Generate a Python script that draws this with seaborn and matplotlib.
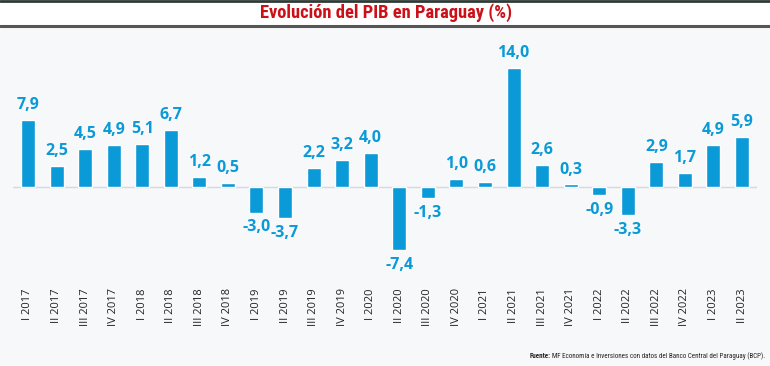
import numpy as np
import pandas as pd
import seaborn as sns
import matplotlib.pyplot as plt
from matplotlib import font_manager
from matplotlib.patches import Rectangle
from matplotlib.lines import Line2D

# Data
quarters = ["I 2017", "II 2017", "III 2017", "IV 2017",
            "I 2018", "II 2018", "III 2018", "IV 2018",
            "I 2019", "II 2019", "III 2019", "IV 2019",
            "I 2020", "II 2020", "III 2020", "IV 2020",
            "I 2021", "II 2021", "III 2021", "IV 2021",
            "I 2022", "II 2022", "III 2022", "IV 2022",
            "I 2023", "II 2023"]
pib = [7.9, 2.5, 4.5, 4.9, 5.1, 6.7, 1.2, 0.5,
       -3.0, -3.7, 2.2, 3.2, 4.0, -7.4, -1.3, 1.0,
       0.6, 14.0, 2.6, 0.3, -0.9, -3.3, 2.9, 1.7,
       4.9, 5.9]

df = pd.DataFrame({"trimestre": quarters, "pib": pib})

blue = "#0a9ad7"
bg = "#f7f8fa"

sns.set_style("white")
plt.rcParams["font.family"] = ["Open Sans", "DejaVu Sans"]

# pick a narrow face for title and source, if there is one
names = {f.name for f in font_manager.fontManager.ttflist}
narrow = [n for n in ["Roboto Condensed", "Liberation Sans Narrow", "Open Sans Condensed",
                      "DejaVu Sans Condensed"] if n in names]
narrow = narrow[0] if narrow else "Roboto"

W, H = 770, 366
fig = plt.figure(figsize=(W / 100, H / 100), dpi=100)
fig.patch.set_facecolor(bg)

# white header band with rules
fig.add_artist(Rectangle((0, 1 - 25 / H), 1, 25 / H, transform=fig.transFigure,
                         facecolor="white", edgecolor="none", zorder=0))
fig.add_artist(Line2D([0, 1], [1 - 1 / H, 1 - 1 / H], transform=fig.transFigure,
                      color="#2f3a36", lw=2))
fig.add_artist(Line2D([0, 1], [1 - 25.5 / H, 1 - 25.5 / H], transform=fig.transFigure,
                      color="#555555", lw=2.2))
fig.text(386 / W, 1 - 12.5 / H, "Evolución del PIB en Paraguay (%)", ha="center", va="center",
         color="#cc1018", fontsize=13.3, fontweight="bold", family=[narrow, "DejaVu Sans"])

# axes placement in pixels
left, right, top, bottom = 13, 757, 35, 280
ax = fig.add_axes([left / W, 1 - bottom / H, (right - left) / W, (bottom - top) / H])
ax.set_facecolor(bg)

sns.barplot(data=df, x="trimestre", y="pib", color=blue, saturation=1,
            width=0.49, ax=ax)

ax.set_xlim(-0.525, 25.525)
ax.set_ylim(-(bottom - 187) / 8.5, (187 - top) / 8.5)
ax.axhline(0, color="#d5d8dc", lw=1, zorder=0)

for i, v in enumerate(pib):
    label = f"{v:.1f}".replace(".", ",")
    if v >= 0:
        ax.annotate(label, (i, v), xytext=(0, 5), textcoords="offset points",
                    ha="center", va="bottom", color=blue, fontsize=11.5,
                    fontweight="bold")
    else:
        ax.annotate(label, (i, v), xytext=(0, -5), textcoords="offset points",
                    ha="center", va="top", color=blue, fontsize=11.5,
                    fontweight="bold")

ax.set_xlabel("")
ax.set_ylabel("")
ax.set_yticks([])
ax.tick_params(axis="x", length=0, pad=6, labelsize=8, labelcolor="#222222")
plt.setp(ax.get_xticklabels(), rotation=90)
for s in ax.spines.values():
    s.set_visible(False)

t = fig.text(765 / W, 1 - 356 / H,
             "MF Economía e Inversiones con datos del Banco Central del Paraguay (BCP).",
             ha="right", va="center", fontsize=5.0, color="#222222",
             family=[narrow, "DejaVu Sans"])
fig.canvas.draw()
bb = t.get_window_extent()
fig.text(bb.x0 / W - 0.002, 1 - 356 / H, "Fuente:", ha="right", va="center",
         fontsize=5.0, fontweight="bold", color="#222222", family=[narrow, "DejaVu Sans"])

fig.savefig("out.png", dpi=100, facecolor=fig.get_facecolor())
